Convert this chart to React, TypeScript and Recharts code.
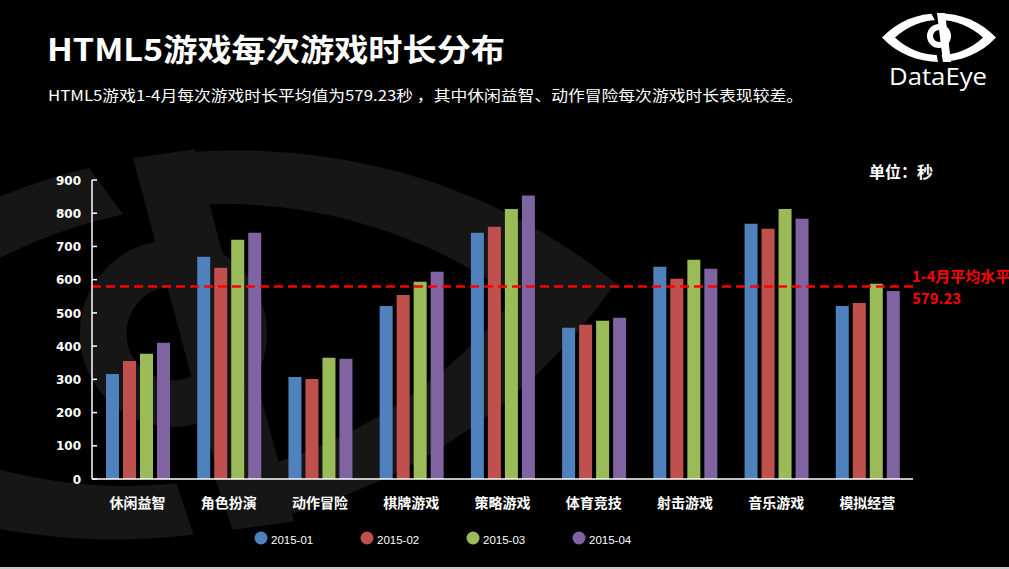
import React from "react";
import { BarChart, Bar, XAxis, YAxis, ReferenceLine } from "recharts";

// 游戏类型
const categories = ["休闲益智", "角色扮演", "动作冒险", "棋牌游戏", "策略游戏", "体育竞技", "射击游戏", "音乐游戏", "模拟经营"];
const seriesNames = ["2015-01", "2015-02", "2015-03", "2015-04"];
// 每次游戏时长（秒）
const jan = [316, 669, 307, 521, 741, 455, 639, 768, 521];
const feb = [355, 636, 301, 554, 759, 464, 603, 753, 530];
const mar = [377, 720, 365, 594, 813, 476, 660, 813, 588];
const apr = [410, 741, 362, 624, 853, 485, 633, 783, 566];
const yTicks = [0, 100, 200, 300, 400, 500, 600, 700, 800, 900];
const average = 579.23;

const colors = ["#4f81bd", "#c0504d", "#9bbb59", "#8064a2"];
const keys = ["m1", "m2", "m3", "m4"];

const data = categories.map((name, i) => ({ name, m1: jan[i], m2: feb[i], m3: mar[i], m4: apr[i] }));

const CJK = "'Noto Sans CJK SC', 'Noto Sans', sans-serif";

const YTick = (props: any) => {
  const { x, y, payload } = props;
  const axisX = x + 11;
  return (
    <g>
      <line x1={axisX} x2={axisX + 5} y1={y} y2={y} stroke="#fff" strokeWidth={1.5} />
      <text x={x} y={y} dy={4.7} textAnchor="end" fill="#fff" fontSize={12} fontWeight="bold" fontFamily="'DejaVu Sans', sans-serif">
        {payload.value}
      </text>
    </g>
  );
};

const XTick = (props: any) => {
  const { x, y, payload } = props;
  return (
    <text x={x} y={y + 29} textAnchor="middle" fill="#fff" fontSize={14} fontWeight="bold" fontFamily={CJK}>
      {payload.value}
    </text>
  );
};

const AvgLabel = (props: any) => {
  const vb = props.viewBox || {};
  const x = vb.x + vb.width - 1;
  const y = vb.y;
  return (
    <g fill="#ff0000" fontWeight="bold" fontSize={15} fontFamily={CJK}>
      <text x={x} y={y - 5}>1-4月平均水平</text>
      <text x={x} y={y + 17}>{average}</text>
    </g>
  );
};

// DataEye eye logo, drawn in a 114 x 49 box
const EyeLogo = ({ fg, bg }: { fg: string; bg: string }) => (
  <g>
    <path d="M0,24.5 C30,-8 84,-8 114,24.5 C84,57 30,57 0,24.5Z" fill={fg} />
    <path d="M13,24.5 C38,1 76,1 101,24.5 C76,48 38,48 13,24.5Z" fill={bg} />
    <polygon points="49,0 55,0 62,13 57,15" fill={bg} />
    <polygon points="55,0 63,0 69,49 61,49" fill={fg} />
    <polygon points="53,33 58,33 61,49 56,49" fill={bg} />
    <circle cx={57} cy={23} r={9} fill="none" stroke={fg} strokeWidth={6} />
  </g>
);

export default function App() {
  return (
    <div style={{ position: "absolute", left: 0, top: 0, width: 1009, height: 569, background: "#000", overflow: "hidden" }}>
      <svg width={1009} height={569} style={{ position: "absolute", left: 0, top: 0 }}>
        <g transform="translate(175,345) rotate(-8) scale(7.8) translate(-57,-24.5)">
          <EyeLogo fg="#161616" bg="#000" />
        </g>
        <rect x={0} y={567} width={1009} height={2} fill="#c8c8c8" />
      </svg>

      <BarChart
        width={1009}
        height={569}
        data={data}
        margin={{ top: 180, right: 96, bottom: 60, left: 42 }}
        barSize={13}
        barGap={4}
        style={{ position: "absolute", left: 0, top: 0 }}
      >
        <XAxis
          dataKey="name"
          axisLine={{ stroke: "#fff", strokeWidth: 1.5 }}
          tickLine={false}
          tickSize={0}
          tickMargin={0}
          interval={0}
          height={30}
          tick={<XTick />}
        />
        <YAxis
          width={50}
          domain={[0, 900]}
          ticks={yTicks}
          interval={0}
          axisLine={{ stroke: "#fff", strokeWidth: 1.5 }}
          tickLine={false}
          tickSize={0}
          tickMargin={11}
          tick={<YTick />}
        />
        {keys.map((k, i) => (
          <Bar key={k} dataKey={k} name={seriesNames[i]} fill={colors[i]} isAnimationActive={false} />
        ))}
        <ReferenceLine y={average} stroke="#ff0000" strokeWidth={2.5} strokeDasharray="9 5" label={<AvgLabel />} />
      </BarChart>

      <svg width={1009} height={569} style={{ position: "absolute", left: 0, top: 0, pointerEvents: "none" }}>
        <text x={47} y={61} fill="#fff" fontSize={31} fontWeight="bold" fontFamily={CJK} textLength={458} lengthAdjust="spacingAndGlyphs">
          HTML5游戏每次游戏时长分布
        </text>
        <text x={48} y={101} fill="#fff" fontSize={15} fontFamily={CJK} textLength={755} lengthAdjust="spacingAndGlyphs">
          HTML5游戏1-4月每次游戏时长平均值为579.23秒 ，其中休闲益智、动作冒险每次游戏时长表现较差。
        </text>
        <text x={869} y={178} fill="#fff" fontSize={16} fontWeight="bold" fontFamily={CJK}>
          单位：秒
        </text>

        <g transform="translate(882,13)">
          <EyeLogo fg="#fff" bg="#000" />
        </g>
        <text x={889} y={85} fill="#fff" fontSize={24} fontFamily="'Open Sans', sans-serif" textLength={98} lengthAdjust="spacingAndGlyphs">
          DataEye
        </text>

        {seriesNames.map((s, i) => (
          <g key={s}>
            <circle cx={261 + i * 106} cy={538} r={6.5} fill={colors[i]} />
            <text x={271 + i * 106} y={544} fill="#fff" fontSize={11.5} fontFamily="'Liberation Sans', Arial, sans-serif">
              {s}
            </text>
          </g>
        ))}
      </svg>
    </div>
  );
}
